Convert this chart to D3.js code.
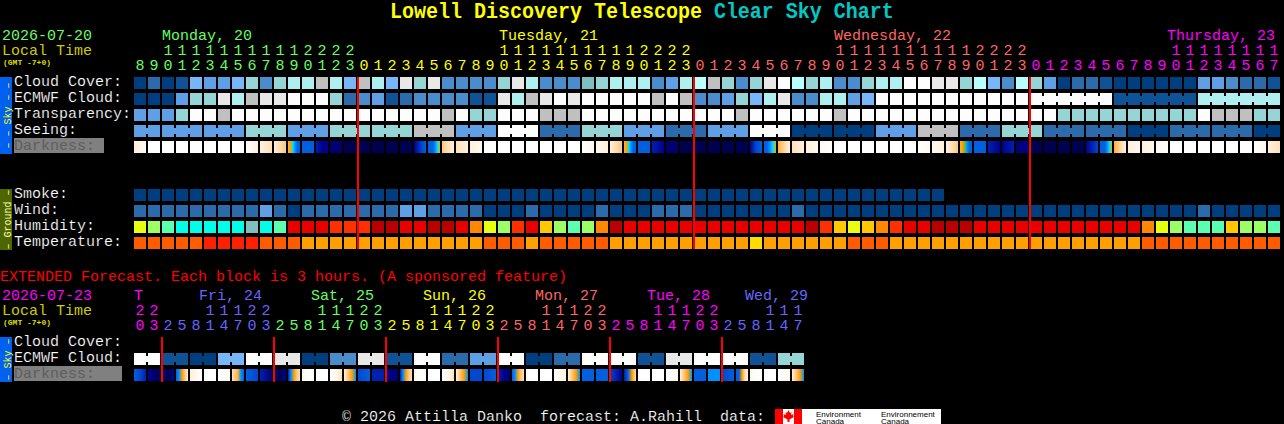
<!DOCTYPE html>
<html><head><meta charset="utf-8">
<script src="https://cdn.jsdelivr.net/npm/d3@7"></script>
<style>html,body{margin:0;padding:0;background:#000;overflow:hidden}svg{display:block}
text{font-family:"Liberation Mono",monospace;white-space:pre;stroke:none}
text.thin{stroke:#000;stroke-width:.18}</style></head>
<body><div id="c"></div>
<script>
// ---------- data ----------
const hours=[8,9,10,11,12,13,14,15,16,17,18,19,20,21,22,23,
0,1,2,3,4,5,6,7,8,9,10,11,12,13,14,15,16,17,18,19,20,21,22,23,
0,1,2,3,4,5,6,7,8,9,10,11,12,13,14,15,16,17,18,19,20,21,22,23,
0,1,2,3,4,5,6,7,8,9,10,11,12,13,14,15,16,17];
const dayStarts=[0,16,40,64];
const midnights=[16,40,64];
const dayLabels=["Monday, 20","Tuesday, 21","Wednesday, 22","Thursday, 23"];
const cloudCover=[0,2,0,1,5,4,4,5,6,3,6,7,7,8,7,5,8,7,5,9,6,9,3,3,3,3,6,9,7,3,3,3,11,6,7,7,7,3,4,7,12,8,6,3,6,9,10,12,6,7,3,3,6,7,7,10,10,9,9,6,12,5,3,12,6,4,0,2,2,1,0,0,0,0,0,0,4,4,3,2,2,1];
const ecmwfCloud=[0,0,0,4,6,6,9,7,8,9,9,10,10,10,6,2,3,4,1,2,3,3,3,3,1,1,9,7,8,9,10,9,10,10,10,10,10,8,10,8,3,3,4,6,5,7,9,3,3,7,7,4,5,10,10,10,10,10,10,10,10,10,10,10,10,10,10,10,10,10,1,1,1,1,1,1,7,7,7,7,7,7];
const ecmwfBlockStarts=[64,70,76];
const transparency=[4,4,4,6,10,10,8,10,10,10,10,10,10,10,10,10,10,10,10,10,10,10,8,10,6,6,10,10,10,8,8,8,10,10,10,10,10,10,10,10,10,10,10,8,10,10,10,10,10,10,8,10,10,10,10,10,10,10,10,10,10,10,10,10,10,10,6,6,6,6,6,6,6,6,6,6,10,8,8,8,6,6];
const seeingBlockStarts=[0,2,5,8,11,14,17,20,23,26,29,32,35,38,41,44,47,50,53,56,59,62,65,68,71,74,77,80];
const seeingBlockValues=[4,4,4,6,4,6,6,8,4,10,2,6,4,2,4,10,0,0,4,8,2,6,2,2,0,2,2,0];
const darkness=[
[2,1],[0],[0],[0],[0],[0],[0],[0],[0,2],[2,3],[2,4],[5,6,8,9,10,10],[10],[12,13,13],[14],[15],[15],[15],[15],[15],[13,12,11,10],[10,10,10,9,8,6],[4,3,2],[3,2],
[2,1],[0],[0],[0],[0],[0],[0],[0],[0,1],[1,2],[2,4],[5,6,8,9,10,10],[10],[12,13],[14],[15],[15],[15],[15],[15],[13,11,10],[10,10,9,8,6],[5,4,3,2],[3,2],
[2,1],[1,0],[0],[0],[0],[0],[0],[0],[0,1],[1,2],[2,3,4],[5,6,7,9,10,10],[10],[12,13],[13,12],[14,13],[15],[15],[15],[15],[13,12,11],[10,10,10,9,8,6],[5,4,3,2],[2,1],
[2,1],[1,0],[0],[0],[0],[0],[0],[0],[0,1],[2,3]];
const smoke=[0,0,0,0,0,0,0,0,0,0,0,0,0,0,0,0,0,0,0,0,0,0,0,0,0,0,0,0,0,0,0,0,0,0,0,0,0,0,0,0,0,0,0,0,0,0,0,0,0,0,0,0,0,0,0,0,0,0];
const wind=[2,2,2,2,2,2,2,2,2,4,2,0,2,2,2,2,2,2,2,4,4,2,2,2,2,0,0,0,2,0,0,0,0,2,0,0,0,2,2,2,0,0,0,0,0,0,0,2,0,0,0,0,0,0,0,0,0,0,0,0,0,0,0,0,0,0,0,0,0,0,0,0,0,0,0,0,2,0,0,0,0,0];
const humidity=["Y","L","M","C","C","C","C","C","G","C","M","R","R","R","O","O","O","D","D","R","R","D","D","R","A","Y","L","O","R","W","L","M","L","A","D","R","R","R","R","R","R","R","R","R","R","R","R","R","D","O","W","Y","W","A","O","R","R","D","D","D","R","R","R","R","R","R","R","R","R","R","R","R","A","Y","L","M","M","M","W","L","L","M"];
const temperature=["b","b","b","b","b","a","a","a","a","b","b","b","c","c","c","c","c","c","c","c","c","c","c","c","c","b","b","b","c","b","b","b","b","b","c","c","c","c","c","c","c","c","c","c","d","c","c","c","c","c","c","b","b","b","c","c","c","c","c","c","c","c","c","c","c","c","c","c","c","c","c","c","b","b","b","b","b","b","b","b","b","b"];
const rowNames=["Cloud Cover:","ECMWF Cloud:","Transparency:","Seeing:","Darkness:"];
const groundNames=["Smoke:","Wind:","Humidity:","Temperature:"];

const extHours=[20,23,2,5,8,11,14,17,20,23,2,5,8,11,14,17,20,23,2,5,8,11,14,17,20,23,2,5,8,11,14,17,20,23,2,5,8,11,14,17,20,23,2,5,8,11,14,17];
const extDayStarts=[0,2,10,18,26,34,42];
const extDayLabels=["T","Fri, 24","Sat, 25","Sun, 26","Mon, 27","Tue, 28","Wed, 29"];
const extMidnights=[2,10,18,26,34,42];
const extEcmwfBlocks=[10,1,0,5,10,9,0,3,9,1,10,2,4,10,0,2,10,10,1,9,10,10,1,6];
const extDarkness=[
[10,11,12],[13,14,15],[14,15,13],[10,9,6,4,2],[2,0],[0],[0,1],[3,4,5,9,10],
[10,11],[12,14],[14,15,13],[12,9,6,4,3],[1,0],[0],[0,1,3],[2,4,6,9],
[11,10],[12,12],[13,14],[12,9,6,4,3],[1,0],[0],[0,1,3],[2,4,6,9],
[11],[11,10],[12,13,14],[10,9,6,4,3],[0],[0],[0,1,2],[2,4,6,9],
[10],[10],[11,12,13],[12,10,6,3],[0],[0],[0,1],[2,4,6,9],
[10],[9],[11,10],[10,10,6,3,2],[1,0],[0],[0,1],[2,4,6,9]];

// ---------- scales ----------
const W=1284,H=424;
const svg=d3.select("#c").append("svg").attr("width",W).attr("height",H).attr("viewBox",[0,0,W,H]);
svg.append("rect").attr("width",W).attr("height",H).attr("fill","#000");
const x=d3.scaleBand().domain(d3.range(82)).range([134,134+82*14-2]).paddingInner(2/14).paddingOuter(0);
const xc=i=>x(i)+x.bandwidth()/2;
const xe=d3.scaleBand().domain(d3.range(48)).range([134,134+48*14-2]).paddingInner(2/14).paddingOuter(0);
const xec=i=>xe(i)+xe.bandwidth()/2;
const cloudColor=d3.scaleOrdinal(d3.range(13),["#003f7f","#0f5296","#2b6aab","#4a8ccc","#5e9fe6","#78b6fa","#95d5d5","#afefef","#c0c0c0","#e8e8e8","#fdfdfd","#7fbfbf","#b8ffff"]);
const humidColor=d3.scaleOrdinal(["D","R","O","A","W","Y","L","M","C","G"],["#b80000","#e80000","#ff3000","#ff8800","#ffc800","#e8ff10","#9dff66","#5affb0","#00ffe8","#80bfbf"]);
const tempColor=d3.scaleOrdinal(["a","b","c","d"],["#ff2000","#ff5c00","#ffa000","#ffdc00"]);
const darkColor=d3.scaleOrdinal(d3.range(16),["#ffffff","#fff8f0","#fff0dc","#ffe0b8","#ffc880","#ffb030","#ffa000","#60c040","#00e0ff","#0090ff","#0060e0","#0048d0","#0020b0","#000090","#000070","#000050"]);
const dayCols=["#66ff66","#ffff00","#ff6666","#ff00ff"];
const extCols=["#ff00ff","#6666ff","#66ff66","#ffff00","#ff6666","#ff00ff","#6666ff"];

const rowH=12;
const yTop=d3.scaleBand().domain(rowNames).range([77,153]).paddingInner(4/16);
const yGround=d3.scaleBand().domain(groundNames).range([189,249]).paddingInner(4/16);

const T=(t,px,py,fill,size,extra)=>{const e=svg.append("text").attr("x",px).attr("y",py).attr("fill",fill).attr("font-size",size).text(t);if(extra)extra(e);return e;};
const thin=e=>e.attr("class","thin");

// ---------- titles ----------
const title=svg.append("text").attr("transform","translate(390,18.3) scale(1,1.13)").attr("font-size",20).attr("font-weight","bold");
title.append("tspan").attr("fill","#ffff00").text("Lowell Discovery Telescope ");
title.append("tspan").attr("fill","#00c8c8").text("Clear Sky Chart");

function header(dy,date,dateCol){
  T(date,2,39.5+dy,dateCol,15);
  T("Local Time",2,54.5+dy,"#cccc00",15);
  T("(GMT -7+0)",3,64.5+dy,"#dddd00",8,e=>e.attr("font-weight","bold"));
}
header(0,"2026-07-20",dayCols[0]);
header(260,"2026-07-23",extCols[0]);

// top hour labels
const dayX=[162,499,834,1167];
dayLabels.forEach((d,i)=>T(d,dayX[i],39.5,dayCols[i],15));
hours.forEach((h,i)=>{
  const c=dayCols[d3.bisectRight(dayStarts,i)-1];
  if(h>=10) T(Math.floor(h/10),xc(i),55,c,15,e=>e.attr("text-anchor","middle"));
  T(h%10,xc(i),70,c,15,e=>e.attr("text-anchor","middle"));
});

// ---------- rows ----------
function row(vals,y,color,xs){
  svg.append("g").selectAll("rect").data(vals).join("rect")
    .attr("x",(d,i)=>xs(i)).attr("y",y).attr("width",xs.bandwidth()).attr("height",rowH)
    .attr("fill",d=>color(d));
}
function links(start,end,val,y,xs){ // narrow bridge joining blocks of one forecast step
  for(let i=start;i<end;i++)
    svg.append("rect").attr("x",xs(i)+xs.bandwidth()).attr("y",y+3).attr("width",xs.step()-xs.bandwidth()).attr("height",6).attr("fill",val);
}
row(cloudCover,yTop(rowNames[0]),cloudColor,x);
row(ecmwfCloud,yTop(rowNames[1]),cloudColor,x);
ecmwfBlockStarts.forEach(s=>links(s,s+5,cloudColor(ecmwfCloud[s]),yTop(rowNames[1]),x));
row(transparency,yTop(rowNames[2]),cloudColor,x);
const seeingCols=d3.range(82).map(i=>seeingBlockValues[d3.bisectRight(seeingBlockStarts,i)-1]);
row(seeingCols,yTop(rowNames[3]),cloudColor,x);
seeingBlockStarts.forEach((s,k)=>links(s,(k+1<seeingBlockStarts.length?seeingBlockStarts[k+1]:82)-1,cloudColor(seeingBlockValues[k]),yTop(rowNames[3]),x));

// darkness cells with an inner gradient
const defs=svg.append("defs");
function darkRow(list,y,xs,prefix){
  list.forEach((stops,i)=>{
    const id=prefix+i;
    const g=defs.append("linearGradient").attr("id",id);
    const s=stops.length>1?stops:[stops[0],stops[0]];
    s.forEach((v,k)=>g.append("stop").attr("offset",k/(s.length-1)).attr("stop-color",darkColor(v)));
    svg.append("rect").attr("x",xs(i)).attr("y",y).attr("width",xs.bandwidth()).attr("height",rowH).attr("fill",`url(#${id})`);
  });
}
darkRow(darkness,yTop(rowNames[4]),x,"d");

row(smoke,yGround(groundNames[0]),cloudColor,x);
row(wind,yGround(groundNames[1]),cloudColor,x);
row(humidity,yGround(groundNames[2]),humidColor,x);
row(temperature,yGround(groundNames[3]),tempColor,x);

// row labels
svg.append("rect").attr("x",14).attr("y",138).attr("width",90).attr("height",15).attr("fill","#808080");
rowNames.forEach((n,i)=>T(n,14,yTop(n)+9,i==4?"#5e5e5e":"#fff",15,i==4?null:thin));
groundNames.forEach(n=>T(n,14,yGround(n)+9,"#fff",15,thin));

// side bars
function sideBar(y0,y1,fill,label,tc){
  svg.append("rect").attr("x",0).attr("y",y0).attr("width",12).attr("height",y1-y0).attr("fill",fill);
  svg.append("text").attr("transform",`translate(10.5,${(y0+y1)/2}) rotate(-90)`).attr("text-anchor","middle")
    .attr("font-size",10).attr("fill",tc).text(label);
}
sideBar(77,154,"#0060f0","– – Sky – –","#ffff00");
sideBar(189,250,"#4f6600","– Ground –","#ffffb0");

// midnight lines
midnights.forEach(c=>svg.append("rect").attr("x",x(c)-1).attr("y",77).attr("width",2).attr("height",172).attr("fill","#ff0000"));

// ---------- extended ----------
T("EXTENDED Forecast. Each block is 3 hours. (A sponsored feature)",0,280.5,"#ff0000",15);
const extLabelX=[134,199,311,423,535,647,745];
extDayLabels.forEach((d,i)=>T(d,extLabelX[i],299.5,extCols[i],15));
extHours.forEach((h,i)=>{
  const c=extCols[d3.bisectRight(extDayStarts,i)-1];
  if(h>=10) T(Math.floor(h/10),xec(i),315,c,15,e=>e.attr("text-anchor","middle"));
  T(h%10,xec(i),330,c,15,e=>e.attr("text-anchor","middle"));
});
T("Cloud Cover:",14,346,"#fff",15,thin);
T("ECMWF Cloud:",14,362,"#fff",15,thin);
svg.append("rect").attr("x",14).attr("y",366).attr("width",108).attr("height",15).attr("fill","#808080");
T("Darkness:",14,378,"#5e5e5e",15);
const extEcmwfCols=d3.range(48).map(i=>extEcmwfBlocks[Math.floor(i/2)]);
row(extEcmwfCols,353,cloudColor,xe);
extEcmwfBlocks.forEach((v,k)=>links(k*2,k*2+1,cloudColor(v),353,xe));
darkRow(extDarkness,369,xe,"e");
sideBar(337,382,"#0060f0","– Sky –","#ffff00");
extMidnights.forEach(c=>svg.append("rect").attr("x",xe(c)-1).attr("y",337).attr("width",2).attr("height",45).attr("fill","#ff0000"));

// ---------- footer ----------
T("© 2026 Attilla Danko  forecast: A.Rahill  data:",342,420.5,"#fff",15,thin);
svg.append("rect").attr("x",775).attr("y",409).attr("width",166).attr("height",15).attr("fill","#fff");
svg.append("rect").attr("x",775).attr("y",409).attr("width",8).attr("height",15).attr("fill","#ff0000");
svg.append("rect").attr("x",794).attr("y",409).attr("width",8).attr("height",15).attr("fill","#ff0000");
svg.append("path").attr("transform","translate(788.5,416)").attr("fill","#ff0000")
  .attr("d","M0,-6 L1.5,-3 L3,-4 L2.5,-1 L5,-2 L4.5,0 L5.5,1 L1,3.5 L1,6 L-1,6 L-1,3.5 L-5.5,1 L-4.5,0 L-5,-2 L-2.5,-1 L-3,-4 L-1.5,-3 Z");
[[816,"Environment",416.5],[816,"Canada",423.5],[881,"Environnement",416.5],[881,"Canada",423.5]].forEach(a=>T(a[1],a[0],a[2],"#000",8,e=>e.style("font-family","'Liberation Sans',sans-serif")));
</script></body></html>
